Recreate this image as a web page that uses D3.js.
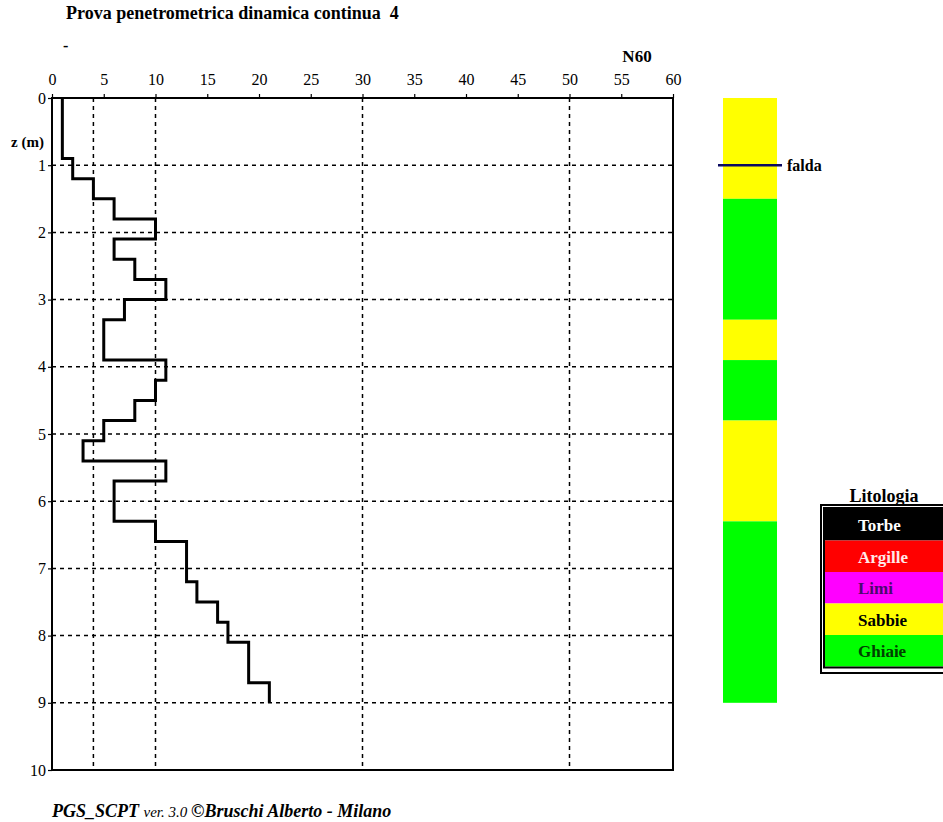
<!DOCTYPE html>
<html>
<head>
<meta charset="utf-8">
<script src="https://cdn.jsdelivr.net/npm/d3@7"></script>
<style>
  html, body { margin: 0; padding: 0; background: #fff; }
  svg { display: block; font-family: "Liberation Serif", "DejaVu Serif", serif; }
  text { white-space: pre; }
</style>
</head>
<body>
<svg id="chart" width="943" height="822"></svg>
<script>
// ---------- data ----------
const depthFrom = [0.0, 0.3, 0.6, 0.9, 1.2, 1.5, 1.8, 2.1, 2.4, 2.7,
                   3.0, 3.3, 3.6, 3.9, 4.2, 4.5, 4.8, 5.1, 5.4, 5.7,
                   6.0, 6.3, 6.6, 6.9, 7.2, 7.5, 7.8, 8.1, 8.4, 8.7];
const n60 = [1, 1, 1, 2, 4, 6, 10, 6, 8, 11,
             7, 5, 5, 11, 10, 8, 5, 3, 11, 6,
             6, 10, 13, 13, 14, 16, 17, 19, 19, 21];
const depthEnd = 9.0;

const xTicks = [0, 5, 10, 15, 20, 25, 30, 35, 40, 45, 50, 55, 60];
const xGrid = [4, 10, 30, 50];
const zTicks = [0, 1, 2, 3, 4, 5, 6, 7, 8, 9, 10];
const zGrid = [1, 2, 3, 4, 5, 6, 7, 8, 9];

const layerTop = [0.0, 1.5, 3.3, 3.9, 4.8, 6.3];
const layerBottom = [1.5, 3.3, 3.9, 4.8, 6.3, 9.0];
const layerType = ["Sabbie", "Ghiaie", "Sabbie", "Ghiaie", "Sabbie", "Ghiaie"];
const faldaDepth = 1.0;

const legendNames = ["Torbe", "Argille", "Limi", "Sabbie", "Ghiaie"];
const legendFill = ["#000000", "#ff0000", "#ff00ff", "#ffff00", "#00ff00"];
const legendText = ["#ffffff", "#ffe8e8", "#4b0a6e", "#000000", "#004000"];

// ---------- setup ----------
const svg = d3.select("#chart");
const x = d3.scaleLinear().domain([0, 60]).range([52, 673]);
const z = d3.scaleLinear().domain([0, 10]).range([98, 770]);
const fillOf = d3.scaleOrdinal().domain(legendNames).range(legendFill);

// title
svg.append("text")
  .attr("x", 66).attr("y", 19)
  .attr("font-size", 18).attr("font-weight", "bold")
  .text("Prova penetrometrica dinamica continua  4");

svg.append("text")
  .attr("x", 63).attr("y", 51)
  .attr("font-size", 16).attr("font-weight", "bold")
  .text("-");

svg.append("text")
  .attr("x", 637).attr("y", 62)
  .attr("font-size", 17).attr("font-weight", "bold")
  .attr("text-anchor", "middle")
  .text("N60");

// grid
const grid = svg.append("g")
  .attr("stroke", "#000").attr("stroke-width", 1.5)
  .attr("stroke-dasharray", "4,4");

grid.selectAll("line.gx").data(xGrid).enter().append("line")
  .attr("x1", d => x(d)).attr("x2", d => x(d))
  .attr("y1", z(0)).attr("y2", z(10));

grid.selectAll("line.gz").data(zGrid).enter().append("line")
  .attr("x1", x(0)).attr("x2", x(60))
  .attr("y1", d => z(d)).attr("y2", d => z(d));

// axes
const topAxis = d3.axisTop(x).tickValues(xTicks).tickSize(4).tickPadding(9);
const gTop = svg.append("g").attr("transform", `translate(0,${z(0)})`).call(topAxis);
gTop.select(".domain").remove();
gTop.selectAll("text").attr("font-size", 16).attr("font-family", "Liberation Serif").attr("fill", "#000");
gTop.selectAll("line").attr("y2", 0).attr("y1", -4).attr("stroke-width", 1.2);

const leftAxis = d3.axisLeft(z).tickValues(zTicks).tickSize(4).tickPadding(2);
const gLeft = svg.append("g").attr("transform", `translate(${x(0)},0)`).call(leftAxis);
gLeft.select(".domain").remove();
gLeft.selectAll("text").attr("font-size", 16).attr("font-family", "Liberation Serif").attr("fill", "#000");
gLeft.selectAll("line").attr("stroke-width", 1.2);

svg.append("text")
  .attr("x", 11).attr("y", 147)
  .attr("font-size", 15).attr("font-weight", "bold")
  .text("z (m)");

// frame
svg.append("rect")
  .attr("x", x(0)).attr("y", z(0))
  .attr("width", x(60) - x(0)).attr("height", z(10) - z(0))
  .attr("fill", "none").attr("stroke", "#000").attr("stroke-width", 2);

// step profile
const pts = depthFrom.map((d, i) => [n60[i], d]);
pts.push([n60[n60.length - 1], depthEnd]);
const line = d3.line()
  .x(d => x(d[0])).y(d => z(d[1]))
  .curve(d3.curveStepBefore);
svg.append("path")
  .attr("d", line(pts))
  .attr("fill", "none").attr("stroke", "#000")
  .attr("stroke-width", 3).attr("stroke-linejoin", "miter");

// lithology column
const colX = 723, colW = 54;
svg.selectAll("rect.layer").data(layerType).enter().append("rect")
  .attr("x", colX)
  .attr("y", (d, i) => z(layerTop[i]))
  .attr("width", colW)
  .attr("height", (d, i) => z(layerBottom[i]) - z(layerTop[i]))
  .attr("fill", d => fillOf(d));

svg.append("line")
  .attr("x1", colX - 5).attr("x2", colX + colW + 5)
  .attr("y1", z(faldaDepth)).attr("y2", z(faldaDepth))
  .attr("stroke", "#0a0a60").attr("stroke-width", 2.5);
svg.append("text")
  .attr("x", colX + colW + 10).attr("y", z(faldaDepth) + 6)
  .attr("font-size", 16).attr("font-weight", "bold")
  .text("falda");

// legend
const lg = svg.append("g");
lg.append("text")
  .attr("x", 884).attr("y", 502)
  .attr("font-size", 18).attr("font-weight", "bold").attr("text-anchor", "middle")
  .text("Litologia");
lg.append("rect")
  .attr("x", 821).attr("y", 505).attr("width", 140).attr("height", 168)
  .attr("fill", "#fff").attr("stroke", "#000").attr("stroke-width", 2);
const rowH = 31.5;
lg.selectAll("rect.lrow").data(legendNames).enter().append("rect")
  .attr("x", 825).attr("y", (d, i) => 509 + i * rowH)
  .attr("width", 130).attr("height", rowH)
  .attr("fill", (d, i) => legendFill[i]);
lg.append("rect")
  .attr("x", 824).attr("y", 508).attr("width", 140).attr("height", 5 * rowH + 2)
  .attr("fill", "none").attr("stroke", "#000").attr("stroke-width", 2);
lg.selectAll("text.lname").data(legendNames).enter().append("text")
  .attr("x", 858).attr("y", (d, i) => 509 + i * rowH + 22)
  .attr("font-size", 17).attr("font-weight", "bold")
  .attr("fill", (d, i) => legendText[i])
  .text(d => d);

// footer
const ft = svg.append("text")
  .attr("x", 52).attr("y", 817)
  .attr("font-size", 18).attr("font-style", "italic");
ft.append("tspan").attr("font-weight", "bold").text("PGS_SCPT ");
ft.append("tspan").attr("font-size", 15).text("ver. 3.0 ");
ft.append("tspan").attr("font-weight", "bold").text("©Bruschi Alberto - Milano");
</script>
</body>
</html>
